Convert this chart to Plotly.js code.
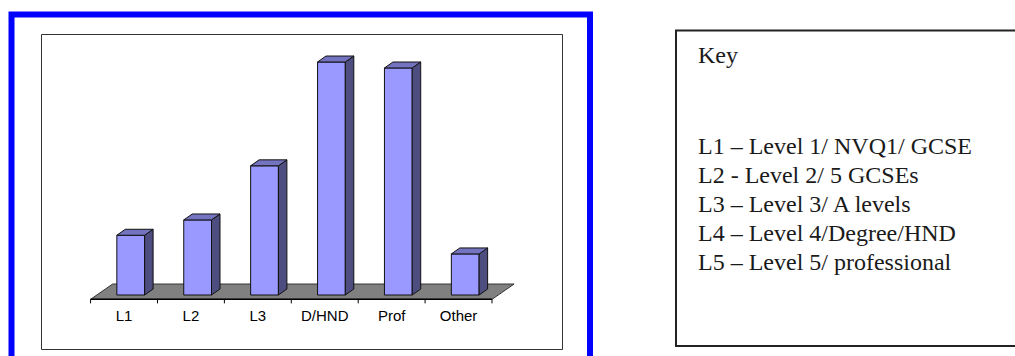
<!DOCTYPE html>
<html>
<head>
<meta charset="utf-8">
<script src="https://cdn.plot.ly/plotly-3.0.1.min.js"></script>
<style>
  html, body { margin: 0; padding: 0; background: #ffffff; }
  #chart { width: 1015px; height: 356px; }
</style>
</head>
<body>
<div id="chart"></div>
<script>
// Highest qualification held, by level
const categories = ['L1', 'L2', 'L3', 'D/HND', 'Prof', 'Other'];
const values = [8.0, 10.05, 17.3, 31.2, 30.4, 5.5];

const keyTitle = 'Key';
const keyLines = [
  'L1 \u2013 Level 1/ NVQ1/ GCSE',
  'L2 - Level 2/ 5 GCSEs',
  'L3 \u2013 Level 3/ A levels',
  'L4 \u2013 Level 4/Degree/HND',
  'L5 \u2013 Level 5/ professional'
];

// ---- page geometry (pixels) ----
const W = 1015, H = 356;
const M = { l: 60, r: 485, t: 40, b: 51 };
const plotW = W - M.l - M.r;
const plotH = H - M.t - M.b;
const xPaper = px => (px - M.l) / plotW;
const yPaper = py => (H - M.b - py) / plotH;

// ---- 3-D column look (axis units) ----
const BAR_SHIFT = 0.1;    // columns sit part-way back on the floor
const BAR_W = 0.415;
const DEPTH_X = 0.127;    // receding offset of side/top faces
const DEPTH_Y = 0.80;
const FLOOR_FRONT = -0.58;
const FLOOR_BACK = 1.47;
const FLOOR_DX = 0.33;
const TICK_LEN = 0.54;

const FRONT = '#9999ff', SIDE = '#4d4d80', TOP = '#7373bf', EDGE = '#111111';

const traces = [];

// front faces of the columns
traces.push({
  type: 'bar',
  x: categories.map((_, i) => i + BAR_SHIFT),
  y: values,
  base: 0,
  width: BAR_W,
  marker: { color: FRONT, line: { color: EDGE, width: 1 } },
  hoverinfo: 'skip',
  showlegend: false
});

// side and top faces
values.forEach((v, i) => {
  const xl = i + BAR_SHIFT - BAR_W / 2;
  const xr = i + BAR_SHIFT + BAR_W / 2;
  traces.push({
    type: 'scatter', mode: 'lines', fill: 'toself', fillcolor: SIDE,
    x: [xr, xr + DEPTH_X, xr + DEPTH_X, xr, xr],
    y: [0, DEPTH_Y, v + DEPTH_Y, v, 0],
    line: { color: EDGE, width: 1 }, hoverinfo: 'skip', showlegend: false
  });
  traces.push({
    type: 'scatter', mode: 'lines', fill: 'toself', fillcolor: TOP,
    x: [xl, xr, xr + DEPTH_X, xl + DEPTH_X, xl],
    y: [v, v, v + DEPTH_Y, v + DEPTH_Y, v],
    line: { color: EDGE, width: 1 }, hoverinfo: 'skip', showlegend: false
  });
});

const n = categories.length;
const x0 = -0.5, x1 = n - 0.5;

const shapes = [
  // floor
  {
    type: 'path', xref: 'x', yref: 'y', layer: 'below',
    path: `M ${x0} ${FLOOR_FRONT} L ${x1} ${FLOOR_FRONT} L ${x1 + FLOOR_DX} ${FLOOR_BACK} L ${x0 + FLOOR_DX} ${FLOOR_BACK} Z`,
    fillcolor: '#808080', line: { color: '#333333', width: 1 }
  },
  // category axis line
  {
    type: 'line', xref: 'x', yref: 'y', x0: x0, x1: x1, y0: FLOOR_FRONT, y1: FLOOR_FRONT,
    line: { color: '#000000', width: 1.5 }
  }
];
// tick marks on category boundaries
for (let i = 0; i <= n; i++) {
  shapes.push({
    type: 'line', xref: 'x', yref: 'y', x0: i - 0.5, x1: i - 0.5,
    y0: FLOOR_FRONT, y1: FLOOR_FRONT - TICK_LEN,
    line: { color: '#000000', width: 1 }
  });
}
// chart frame, inner plot box and key box
shapes.push({
  type: 'rect', xref: 'paper', yref: 'paper',
  x0: xPaper(11.5), x1: xPaper(590), y0: yPaper(14.5), y1: yPaper(372),
  line: { color: '#0000ff', width: 6 }, fillcolor: 'rgba(0,0,0,0)'
});
shapes.push({
  type: 'rect', xref: 'paper', yref: 'paper',
  x0: xPaper(41.5), x1: xPaper(562.5), y0: yPaper(34.5), y1: yPaper(349.5),
  line: { color: '#333333', width: 1 }, fillcolor: 'rgba(0,0,0,0)'
});
shapes.push({
  type: 'rect', xref: 'paper', yref: 'paper',
  x0: xPaper(676), x1: xPaper(1030), y0: yPaper(30.5), y1: yPaper(346),
  line: { color: '#222222', width: 2 }, fillcolor: 'rgba(0,0,0,0)'
});

const keyFont = { family: 'Liberation Serif, Times New Roman, serif', size: 24, color: '#1a1a1a' };
const annotations = [{
  xref: 'paper', yref: 'paper', x: xPaper(696), y: yPaper(54.6),
  xanchor: 'left', yanchor: 'middle', showarrow: false,
  text: keyTitle, font: keyFont
}];
const firstLine = 145.6, lineStep = 29;
keyLines.forEach((t, i) => {
  annotations.push({
    xref: 'paper', yref: 'paper', x: xPaper(696), y: yPaper(firstLine + i * lineStep),
    xanchor: 'left', yanchor: 'middle', showarrow: false,
    text: t, font: keyFont
  });
});

const layout = {
  width: W, height: H,
  margin: M,
  paper_bgcolor: '#ffffff', plot_bgcolor: 'rgba(0,0,0,0)',
  showlegend: false,
  hovermode: false,
  xaxis: {
    range: [-0.957, 6.068],
    tickmode: 'array',
    tickvals: categories.map((_, i) => i),
    ticktext: categories,
    showgrid: false, zeroline: false, showline: false, ticks: '',
    tickfont: { family: 'Liberation Sans, Arial, sans-serif', size: 15, color: '#000000' },
    fixedrange: true
  },
  yaxis: {
    range: [-1.339, 34.146],
    visible: false, showgrid: false, zeroline: false, fixedrange: true
  },
  shapes: shapes,
  annotations: annotations
};

Plotly.newPlot('chart', traces, layout, { displayModeBar: false, staticPlot: true });
</script>
</body>
</html>
